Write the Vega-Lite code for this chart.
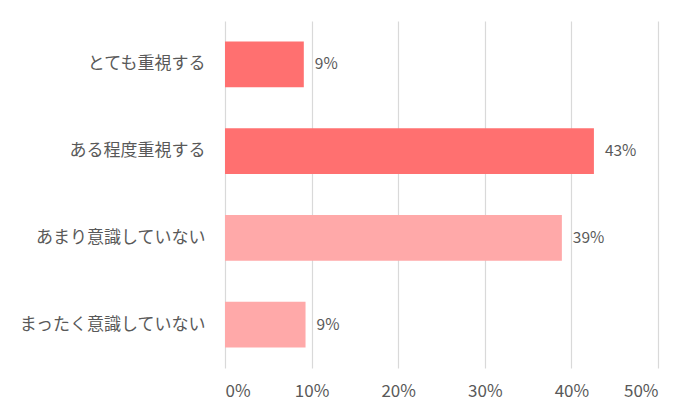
{
  "$schema": "https://vega.github.io/schema/vega-lite/v6.json",
  "autosize": "none",
  "width": 433,
  "height": 347,
  "padding": {"left": 225, "top": 21, "right": 42, "bottom": 52},
  "background": "white",
  "config": {
    "view": {"stroke": null},
    "font": "Noto Sans CJK JP",
    "text": {"font": "Noto Sans CJK JP"}
  },
  "data": {
    "values": [
      {"answer": "とても重視する", "share": 0.091, "group": "重視"},
      {"answer": "ある程度重視する", "share": 0.426, "group": "重視"},
      {"answer": "あまり意識していない", "share": 0.389, "group": "意識なし"},
      {"answer": "まったく意識していない", "share": 0.093, "group": "意識なし"}
    ]
  },
  "encoding": {
    "y": {
      "field": "answer",
      "type": "nominal",
      "sort": null,
      "scale": {"paddingInner": 0.47, "paddingOuter": 0.235},
      "axis": {
        "title": null,
        "domain": false,
        "ticks": false,
        "labelFontSize": 17,
        "labelColor": "#595959",
        "labelPadding": 20,
        "labelLimit": 300,
        "labelFont": "Noto Sans CJK JP"
      }
    },
    "x": {
      "field": "share",
      "type": "quantitative",
      "scale": {"domain": [0, 0.5]},
      "axis": {
        "title": null,
        "format": ".0%",
        "values": [0, 0.1, 0.2, 0.3, 0.4, 0.5],
        "domain": false,
        "ticks": false,
        "gridColor": "#D9D9D9",
        "gridWidth": 1.2,
        "labelFontSize": 17,
        "labelColor": "#595959",
        "labelPadding": 15,
        "labelFont": "Noto Sans CJK JP"
      }
    }
  },
  "layer": [
    {
      "mark": {"type": "bar"},
      "encoding": {
        "color": {
          "field": "group",
          "type": "nominal",
          "scale": {"domain": ["重視", "意識なし"], "range": ["#FF7070", "#FFA9A9"]},
          "legend": null
        }
      }
    },
    {
      "mark": {"type": "text", "align": "left", "baseline": "middle", "dx": 11, "fontSize": 15.5, "color": "#595959"},
      "encoding": {
        "text": {"field": "share", "type": "quantitative", "format": ".0%"}
      }
    }
  ]
}
